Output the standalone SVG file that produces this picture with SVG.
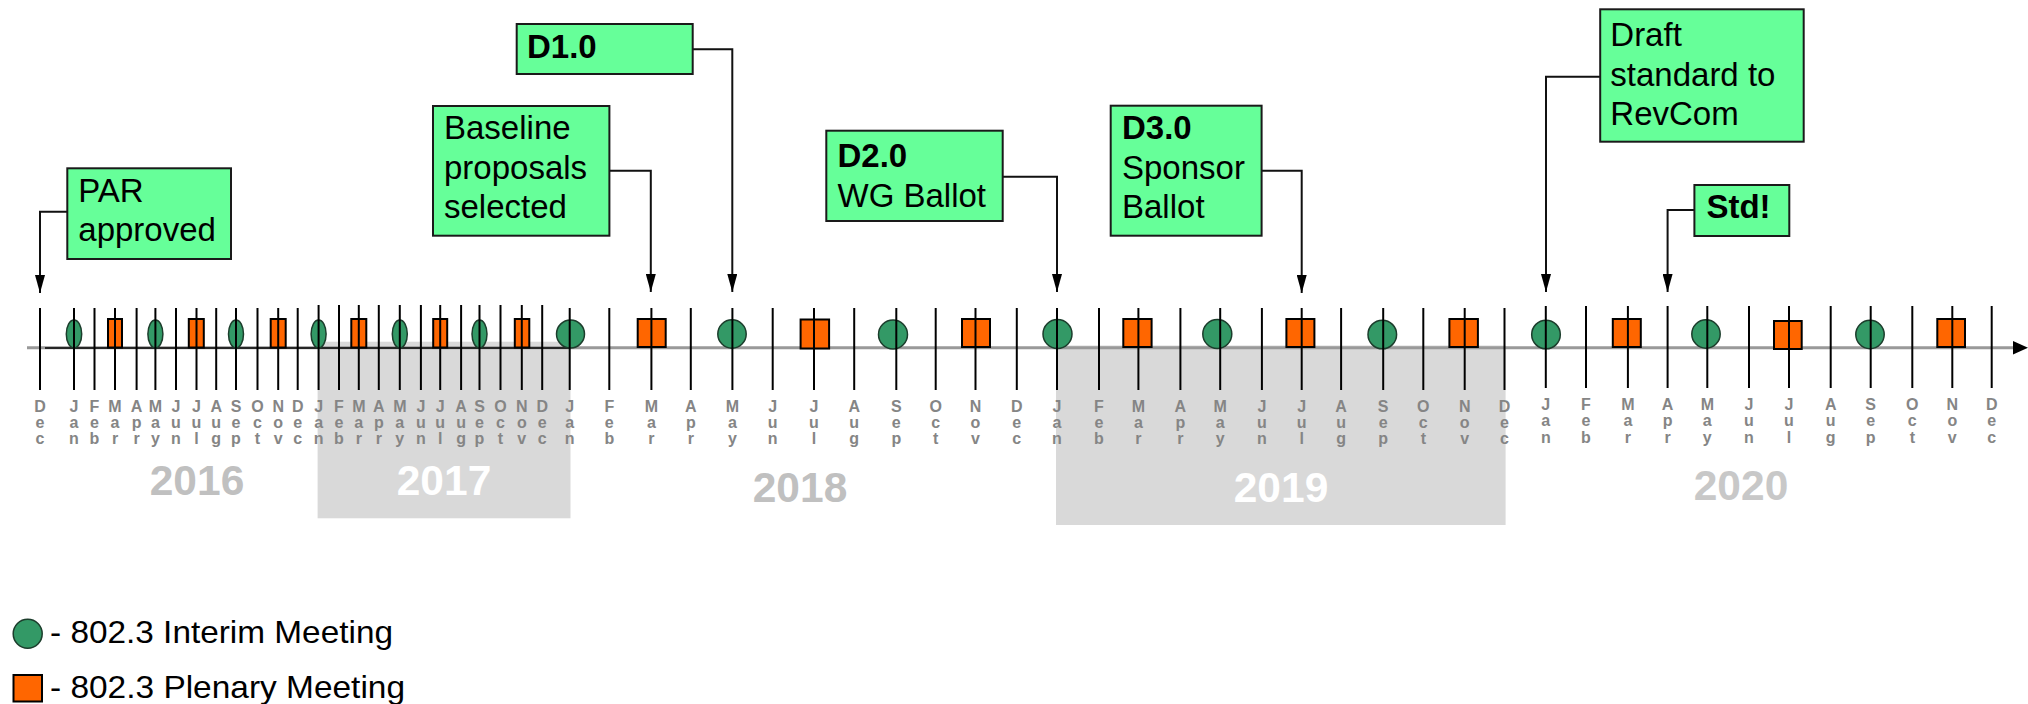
<svg xmlns="http://www.w3.org/2000/svg" width="2028" height="704" viewBox="0 0 2028 704">
<style>
.bg{fill:#ffffff}
.band{fill:#d9d9d9}
.tk{stroke:#000;stroke-width:2}
.m{font-family:"Liberation Sans",Arial,sans-serif;font-weight:bold;font-size:16px;fill:#858585;text-anchor:middle}
.yr{font-family:"Liberation Sans",Arial,sans-serif;font-weight:bold;font-size:42.5px;text-anchor:middle}
.ci{fill:#339966;stroke:#1c3d2c;stroke-width:1.5}
.sq{fill:#ff6600;stroke:#000;stroke-width:2}
.box{fill:#66ff99;stroke:#1a1a1a;stroke-width:2}
.t{font-family:"Liberation Sans",Arial,sans-serif;font-size:33px;fill:#000}
.b{font-weight:bold}
.cn{fill:none;stroke:#111;stroke-width:2}
.lg{font-family:"Liberation Sans",Arial,sans-serif;font-size:32px;fill:#000}
</style>
<defs>
<marker id="ah" markerUnits="userSpaceOnUse" markerWidth="18" markerHeight="10" refX="18" refY="5" orient="auto">
<path d="M0,0 L18,5 L0,10 z" fill="#000"/>
</marker>
</defs>
<rect class="bg" x="0" y="0" width="2028" height="704"/>

<g id="year-bands">
<rect class="band" x="317.6" y="341.7" width="252.9" height="176.6"/>
<rect class="band" x="1056" y="345.5" width="449.6" height="179.5"/>
</g>

<g id="axis">
<line x1="27" y1="347.8" x2="2014" y2="347.8" stroke="#999" stroke-width="3"/>
<line x1="45" y1="348" x2="570" y2="348" stroke="#000" stroke-width="1.5"/>
<polygon points="2013,341 2028,347.8 2013,354.6" fill="#000"/>
</g>

<g id="meetings">
<ellipse class="ci" cx="74" cy="334" rx="7.7" ry="14"/>
<rect class="sq" x="108" y="319" width="14" height="28.5"/>
<ellipse class="ci" cx="155.4" cy="334" rx="7.5" ry="14"/>
<rect class="sq" x="188.8" y="319" width="15" height="28.5"/>
<ellipse class="ci" cx="236" cy="334" rx="7.5" ry="14"/>
<rect class="sq" x="270.7" y="319" width="15" height="28.5"/>
<ellipse class="ci" cx="318.6" cy="334" rx="7.5" ry="14"/>
<rect class="sq" x="351.3" y="319" width="15" height="28.5"/>
<ellipse class="ci" cx="399.8" cy="334" rx="7.5" ry="14"/>
<rect class="sq" x="433.2" y="319" width="14" height="28.5"/>
<ellipse class="ci" cx="479.5" cy="334" rx="7.5" ry="14"/>
<rect class="sq" x="514.8" y="319" width="14.5" height="28.5"/>
<circle class="ci" cx="570.5" cy="334" r="14"/>
<rect class="sq" x="637.7" y="319" width="28" height="28"/>
<circle class="ci" cx="732" cy="334" r="14.2"/>
<rect class="sq" x="800.6" y="319.5" width="28.5" height="29"/>
<circle class="ci" cx="893" cy="334.5" r="14.5"/>
<rect class="sq" x="962" y="319" width="28" height="28"/>
<circle class="ci" cx="1057.5" cy="334" r="14.5"/>
<rect class="sq" x="1123.3" y="319" width="28.3" height="28"/>
<circle class="ci" cx="1217.3" cy="334" r="14.5"/>
<rect class="sq" x="1286.4" y="319" width="28" height="28"/>
<circle class="ci" cx="1382.3" cy="334.5" r="14.3"/>
<rect class="sq" x="1449.4" y="319" width="28.5" height="28"/>
<circle class="ci" cx="1546" cy="334.5" r="14.3"/>
<rect class="sq" x="1612.8" y="319" width="28" height="28"/>
<circle class="ci" cx="1706" cy="334" r="14.2"/>
<rect class="sq" x="1774" y="321" width="27.7" height="28"/>
<circle class="ci" cx="1870" cy="334.5" r="14.2"/>
<rect class="sq" x="1937.3" y="319" width="27.7" height="28"/>
</g>

<g id="ticks">
<line class="tk" x1="40" y1="308" x2="40" y2="390"/>
<line class="tk" x1="74" y1="308" x2="74" y2="390"/>
<line class="tk" x1="94.5" y1="308" x2="94.5" y2="390"/>
<line class="tk" x1="115" y1="308" x2="115" y2="390"/>
<line class="tk" x1="136.6" y1="308" x2="136.6" y2="390"/>
<line class="tk" x1="155.4" y1="308" x2="155.4" y2="390"/>
<line class="tk" x1="176" y1="308" x2="176" y2="390"/>
<line class="tk" x1="196.5" y1="308" x2="196.5" y2="390"/>
<line class="tk" x1="216.2" y1="308" x2="216.2" y2="390"/>
<line class="tk" x1="236" y1="308" x2="236" y2="390"/>
<line class="tk" x1="257.5" y1="308" x2="257.5" y2="390"/>
<line class="tk" x1="278.2" y1="308" x2="278.2" y2="390"/>
<line class="tk" x1="297.7" y1="308" x2="297.7" y2="390"/>
<line class="tk" x1="318.6" y1="305" x2="318.6" y2="390"/>
<line class="tk" x1="339" y1="305" x2="339" y2="390"/>
<line class="tk" x1="358.8" y1="305" x2="358.8" y2="390"/>
<line class="tk" x1="378.8" y1="305" x2="378.8" y2="390"/>
<line class="tk" x1="399.8" y1="305" x2="399.8" y2="390"/>
<line class="tk" x1="420.9" y1="305" x2="420.9" y2="390"/>
<line class="tk" x1="440.2" y1="305" x2="440.2" y2="390"/>
<line class="tk" x1="461.1" y1="305" x2="461.1" y2="390"/>
<line class="tk" x1="479.5" y1="305" x2="479.5" y2="390"/>
<line class="tk" x1="500.5" y1="305" x2="500.5" y2="390"/>
<line class="tk" x1="521.8" y1="305" x2="521.8" y2="390"/>
<line class="tk" x1="542.2" y1="305" x2="542.2" y2="390"/>
<line class="tk" x1="569.7" y1="308" x2="569.7" y2="390"/>
<line class="tk" x1="609.3" y1="308" x2="609.3" y2="390"/>
<line class="tk" x1="651.4" y1="308" x2="651.4" y2="390"/>
<line class="tk" x1="690.8" y1="308" x2="690.8" y2="390"/>
<line class="tk" x1="732.4" y1="308" x2="732.4" y2="390"/>
<line class="tk" x1="772.7" y1="308" x2="772.7" y2="390"/>
<line class="tk" x1="814" y1="308" x2="814" y2="390"/>
<line class="tk" x1="854.2" y1="308" x2="854.2" y2="390"/>
<line class="tk" x1="896.3" y1="308" x2="896.3" y2="390"/>
<line class="tk" x1="935.7" y1="308" x2="935.7" y2="390"/>
<line class="tk" x1="975.5" y1="308" x2="975.5" y2="390"/>
<line class="tk" x1="1016.8" y1="308" x2="1016.8" y2="390"/>
<line class="tk" x1="1057" y1="308" x2="1057" y2="390"/>
<line class="tk" x1="1099" y1="308" x2="1099" y2="390"/>
<line class="tk" x1="1138.4" y1="308" x2="1138.4" y2="390"/>
<line class="tk" x1="1180.4" y1="308" x2="1180.4" y2="390"/>
<line class="tk" x1="1220.2" y1="308" x2="1220.2" y2="390"/>
<line class="tk" x1="1261.9" y1="308" x2="1261.9" y2="390"/>
<line class="tk" x1="1301.7" y1="308" x2="1301.7" y2="390"/>
<line class="tk" x1="1341.1" y1="308" x2="1341.1" y2="390"/>
<line class="tk" x1="1383.2" y1="308" x2="1383.2" y2="390"/>
<line class="tk" x1="1423.3" y1="308" x2="1423.3" y2="390"/>
<line class="tk" x1="1464.7" y1="308" x2="1464.7" y2="390"/>
<line class="tk" x1="1504.5" y1="308" x2="1504.5" y2="390"/>
<line class="tk" x1="1545.8" y1="306" x2="1545.8" y2="388"/>
<line class="tk" x1="1586" y1="306" x2="1586" y2="388"/>
<line class="tk" x1="1627.9" y1="306" x2="1627.9" y2="388"/>
<line class="tk" x1="1667.6" y1="306" x2="1667.6" y2="388"/>
<line class="tk" x1="1707.3" y1="306" x2="1707.3" y2="388"/>
<line class="tk" x1="1749" y1="306" x2="1749" y2="388"/>
<line class="tk" x1="1789" y1="306" x2="1789" y2="388"/>
<line class="tk" x1="1830.7" y1="306" x2="1830.7" y2="388"/>
<line class="tk" x1="1870.7" y1="306" x2="1870.7" y2="388"/>
<line class="tk" x1="1912.3" y1="306" x2="1912.3" y2="388"/>
<line class="tk" x1="1952.3" y1="306" x2="1952.3" y2="388"/>
<line class="tk" x1="1991.7" y1="306" x2="1991.7" y2="388"/>
</g>

<g id="month-labels">
<text class="m" x="40" y="411.7">D<tspan x="40" dy="16.3">e</tspan><tspan x="40" dy="16.3">c</tspan></text>
<text class="m" x="74" y="411.7">J<tspan x="74" dy="16.3">a</tspan><tspan x="74" dy="16.3">n</tspan></text>
<text class="m" x="94.5" y="411.7">F<tspan x="94.5" dy="16.3">e</tspan><tspan x="94.5" dy="16.3">b</tspan></text>
<text class="m" x="115" y="411.7">M<tspan x="115" dy="16.3">a</tspan><tspan x="115" dy="16.3">r</tspan></text>
<text class="m" x="136.6" y="411.7">A<tspan x="136.6" dy="16.3">p</tspan><tspan x="136.6" dy="16.3">r</tspan></text>
<text class="m" x="155.4" y="411.7">M<tspan x="155.4" dy="16.3">a</tspan><tspan x="155.4" dy="16.3">y</tspan></text>
<text class="m" x="176" y="411.7">J<tspan x="176" dy="16.3">u</tspan><tspan x="176" dy="16.3">n</tspan></text>
<text class="m" x="196.5" y="411.7">J<tspan x="196.5" dy="16.3">u</tspan><tspan x="196.5" dy="16.3">l</tspan></text>
<text class="m" x="216.2" y="411.7">A<tspan x="216.2" dy="16.3">u</tspan><tspan x="216.2" dy="16.3">g</tspan></text>
<text class="m" x="236" y="411.7">S<tspan x="236" dy="16.3">e</tspan><tspan x="236" dy="16.3">p</tspan></text>
<text class="m" x="257.5" y="411.7">O<tspan x="257.5" dy="16.3">c</tspan><tspan x="257.5" dy="16.3">t</tspan></text>
<text class="m" x="278.2" y="411.7">N<tspan x="278.2" dy="16.3">o</tspan><tspan x="278.2" dy="16.3">v</tspan></text>
<text class="m" x="297.7" y="411.7">D<tspan x="297.7" dy="16.3">e</tspan><tspan x="297.7" dy="16.3">c</tspan></text>
<text class="m" x="318.6" y="411.7">J<tspan x="318.6" dy="16.3">a</tspan><tspan x="318.6" dy="16.3">n</tspan></text>
<text class="m" x="339" y="411.7">F<tspan x="339" dy="16.3">e</tspan><tspan x="339" dy="16.3">b</tspan></text>
<text class="m" x="358.8" y="411.7">M<tspan x="358.8" dy="16.3">a</tspan><tspan x="358.8" dy="16.3">r</tspan></text>
<text class="m" x="378.8" y="411.7">A<tspan x="378.8" dy="16.3">p</tspan><tspan x="378.8" dy="16.3">r</tspan></text>
<text class="m" x="399.8" y="411.7">M<tspan x="399.8" dy="16.3">a</tspan><tspan x="399.8" dy="16.3">y</tspan></text>
<text class="m" x="420.9" y="411.7">J<tspan x="420.9" dy="16.3">u</tspan><tspan x="420.9" dy="16.3">n</tspan></text>
<text class="m" x="440.2" y="411.7">J<tspan x="440.2" dy="16.3">u</tspan><tspan x="440.2" dy="16.3">l</tspan></text>
<text class="m" x="461.1" y="411.7">A<tspan x="461.1" dy="16.3">u</tspan><tspan x="461.1" dy="16.3">g</tspan></text>
<text class="m" x="479.5" y="411.7">S<tspan x="479.5" dy="16.3">e</tspan><tspan x="479.5" dy="16.3">p</tspan></text>
<text class="m" x="500.5" y="411.7">O<tspan x="500.5" dy="16.3">c</tspan><tspan x="500.5" dy="16.3">t</tspan></text>
<text class="m" x="521.8" y="411.7">N<tspan x="521.8" dy="16.3">o</tspan><tspan x="521.8" dy="16.3">v</tspan></text>
<text class="m" x="542.2" y="411.7">D<tspan x="542.2" dy="16.3">e</tspan><tspan x="542.2" dy="16.3">c</tspan></text>
<text class="m" x="569.7" y="411.7">J<tspan x="569.7" dy="16.3">a</tspan><tspan x="569.7" dy="16.3">n</tspan></text>
<text class="m" x="609.3" y="411.7">F<tspan x="609.3" dy="16.3">e</tspan><tspan x="609.3" dy="16.3">b</tspan></text>
<text class="m" x="651.4" y="411.7">M<tspan x="651.4" dy="16.3">a</tspan><tspan x="651.4" dy="16.3">r</tspan></text>
<text class="m" x="690.8" y="411.7">A<tspan x="690.8" dy="16.3">p</tspan><tspan x="690.8" dy="16.3">r</tspan></text>
<text class="m" x="732.4" y="411.7">M<tspan x="732.4" dy="16.3">a</tspan><tspan x="732.4" dy="16.3">y</tspan></text>
<text class="m" x="772.7" y="411.7">J<tspan x="772.7" dy="16.3">u</tspan><tspan x="772.7" dy="16.3">n</tspan></text>
<text class="m" x="814" y="411.7">J<tspan x="814" dy="16.3">u</tspan><tspan x="814" dy="16.3">l</tspan></text>
<text class="m" x="854.2" y="411.7">A<tspan x="854.2" dy="16.3">u</tspan><tspan x="854.2" dy="16.3">g</tspan></text>
<text class="m" x="896.3" y="411.7">S<tspan x="896.3" dy="16.3">e</tspan><tspan x="896.3" dy="16.3">p</tspan></text>
<text class="m" x="935.7" y="411.7">O<tspan x="935.7" dy="16.3">c</tspan><tspan x="935.7" dy="16.3">t</tspan></text>
<text class="m" x="975.5" y="411.7">N<tspan x="975.5" dy="16.3">o</tspan><tspan x="975.5" dy="16.3">v</tspan></text>
<text class="m" x="1016.8" y="411.7">D<tspan x="1016.8" dy="16.3">e</tspan><tspan x="1016.8" dy="16.3">c</tspan></text>
<text class="m" x="1057" y="411.7">J<tspan x="1057" dy="16.3">a</tspan><tspan x="1057" dy="16.3">n</tspan></text>
<text class="m" x="1099" y="411.7">F<tspan x="1099" dy="16.3">e</tspan><tspan x="1099" dy="16.3">b</tspan></text>
<text class="m" x="1138.4" y="411.7">M<tspan x="1138.4" dy="16.3">a</tspan><tspan x="1138.4" dy="16.3">r</tspan></text>
<text class="m" x="1180.4" y="411.7">A<tspan x="1180.4" dy="16.3">p</tspan><tspan x="1180.4" dy="16.3">r</tspan></text>
<text class="m" x="1220.2" y="411.7">M<tspan x="1220.2" dy="16.3">a</tspan><tspan x="1220.2" dy="16.3">y</tspan></text>
<text class="m" x="1261.9" y="411.7">J<tspan x="1261.9" dy="16.3">u</tspan><tspan x="1261.9" dy="16.3">n</tspan></text>
<text class="m" x="1301.7" y="411.7">J<tspan x="1301.7" dy="16.3">u</tspan><tspan x="1301.7" dy="16.3">l</tspan></text>
<text class="m" x="1341.1" y="411.7">A<tspan x="1341.1" dy="16.3">u</tspan><tspan x="1341.1" dy="16.3">g</tspan></text>
<text class="m" x="1383.2" y="411.7">S<tspan x="1383.2" dy="16.3">e</tspan><tspan x="1383.2" dy="16.3">p</tspan></text>
<text class="m" x="1423.3" y="411.7">O<tspan x="1423.3" dy="16.3">c</tspan><tspan x="1423.3" dy="16.3">t</tspan></text>
<text class="m" x="1464.7" y="411.7">N<tspan x="1464.7" dy="16.3">o</tspan><tspan x="1464.7" dy="16.3">v</tspan></text>
<text class="m" x="1504.5" y="411.7">D<tspan x="1504.5" dy="16.3">e</tspan><tspan x="1504.5" dy="16.3">c</tspan></text>
<text class="m" x="1545.8" y="410">J<tspan x="1545.8" dy="16.3">a</tspan><tspan x="1545.8" dy="16.3">n</tspan></text>
<text class="m" x="1586" y="410">F<tspan x="1586" dy="16.3">e</tspan><tspan x="1586" dy="16.3">b</tspan></text>
<text class="m" x="1627.9" y="410">M<tspan x="1627.9" dy="16.3">a</tspan><tspan x="1627.9" dy="16.3">r</tspan></text>
<text class="m" x="1667.6" y="410">A<tspan x="1667.6" dy="16.3">p</tspan><tspan x="1667.6" dy="16.3">r</tspan></text>
<text class="m" x="1707.3" y="410">M<tspan x="1707.3" dy="16.3">a</tspan><tspan x="1707.3" dy="16.3">y</tspan></text>
<text class="m" x="1749" y="410">J<tspan x="1749" dy="16.3">u</tspan><tspan x="1749" dy="16.3">n</tspan></text>
<text class="m" x="1789" y="410">J<tspan x="1789" dy="16.3">u</tspan><tspan x="1789" dy="16.3">l</tspan></text>
<text class="m" x="1830.7" y="410">A<tspan x="1830.7" dy="16.3">u</tspan><tspan x="1830.7" dy="16.3">g</tspan></text>
<text class="m" x="1870.7" y="410">S<tspan x="1870.7" dy="16.3">e</tspan><tspan x="1870.7" dy="16.3">p</tspan></text>
<text class="m" x="1912.3" y="410">O<tspan x="1912.3" dy="16.3">c</tspan><tspan x="1912.3" dy="16.3">t</tspan></text>
<text class="m" x="1952.3" y="410">N<tspan x="1952.3" dy="16.3">o</tspan><tspan x="1952.3" dy="16.3">v</tspan></text>
<text class="m" x="1991.7" y="410">D<tspan x="1991.7" dy="16.3">e</tspan><tspan x="1991.7" dy="16.3">c</tspan></text>
</g>

<g id="year-labels">
<text class="yr" x="197" y="495" fill="#c0c0c0">2016</text>
<text class="yr" x="444" y="495" fill="#ffffff">2017</text>
<text class="yr" x="800" y="501.7" fill="#c0c0c0">2018</text>
<text class="yr" x="1281" y="501.7" fill="#ffffff">2019</text>
<text class="yr" x="1741" y="500" fill="#c8c8c8">2020</text>
</g>

<g id="connectors">
<polyline class="cn" points="67.3,211.7 40,211.7 40,293" marker-end="url(#ah)"/>
<polyline class="cn" points="609.4,170.7 650.8,170.7 650.8,292" marker-end="url(#ah)"/>
<polyline class="cn" points="692.7,49.3 732.3,49.3 732.3,292" marker-end="url(#ah)"/>
<polyline class="cn" points="1002.7,176.7 1057,176.7 1057,292" marker-end="url(#ah)"/>
<polyline class="cn" points="1261.6,170.7 1301.7,170.7 1301.7,293" marker-end="url(#ah)"/>
<polyline class="cn" points="1600.2,76.7 1546,76.7 1546,292" marker-end="url(#ah)"/>
<polyline class="cn" points="1694.4,210 1667.6,210 1667.6,292" marker-end="url(#ah)"/>
</g>

<g id="par-approved">
<rect class="box" x="67.3" y="168.3" width="163.7" height="90.7"/>
<text class="t" x="78.3" y="202.3">PAR</text>
<text class="t" x="78.3" y="240.9">approved</text>
</g>

<g id="baseline-proposals">
<rect class="box" x="433" y="106" width="176.4" height="129.7"/>
<text class="t" x="444" y="139">Baseline</text>
<text class="t" x="444" y="178.6">proposals</text>
<text class="t" x="444" y="218.2">selected</text>
</g>

<g id="d1">
<rect class="box" x="516.7" y="24" width="176" height="50"/>
<text class="t b" x="527" y="58.3">D1.0</text>
</g>

<g id="d2">
<rect class="box" x="826.3" y="130.7" width="176.4" height="90.3"/>
<text class="t b" x="837.5" y="166.5">D2.0</text>
<text class="t" x="837.5" y="206.7">WG Ballot</text>
</g>

<g id="d3">
<rect class="box" x="1110.7" y="105.7" width="150.9" height="130"/>
<text class="t b" x="1122" y="139">D3.0</text>
<text class="t" x="1122" y="178.6">Sponsor</text>
<text class="t" x="1122" y="218.2">Ballot</text>
</g>

<g id="draft-revcom">
<rect class="box" x="1600.2" y="9.3" width="203.5" height="132.4"/>
<text class="t" x="1610.3" y="45.5">Draft</text>
<text class="t" x="1610.3" y="85.5">standard to</text>
<text class="t" x="1610.3" y="125">RevCom</text>
</g>

<g id="std">
<rect class="box" x="1694.4" y="185" width="94.9" height="51"/>
<text class="t b" x="1706.4" y="218.3">Std!</text>
</g>

<g id="legend">
<circle class="ci" cx="27.7" cy="633.8" r="14.5"/>
<text class="lg" x="50" y="642.7" textLength="343" lengthAdjust="spacingAndGlyphs">- 802.3 Interim Meeting</text>
<rect class="sq" x="13.5" y="675" width="28.5" height="26.5"/>
<text class="lg" x="50" y="698.3" textLength="355" lengthAdjust="spacingAndGlyphs">- 802.3 Plenary Meeting</text>
</g>
</svg>
